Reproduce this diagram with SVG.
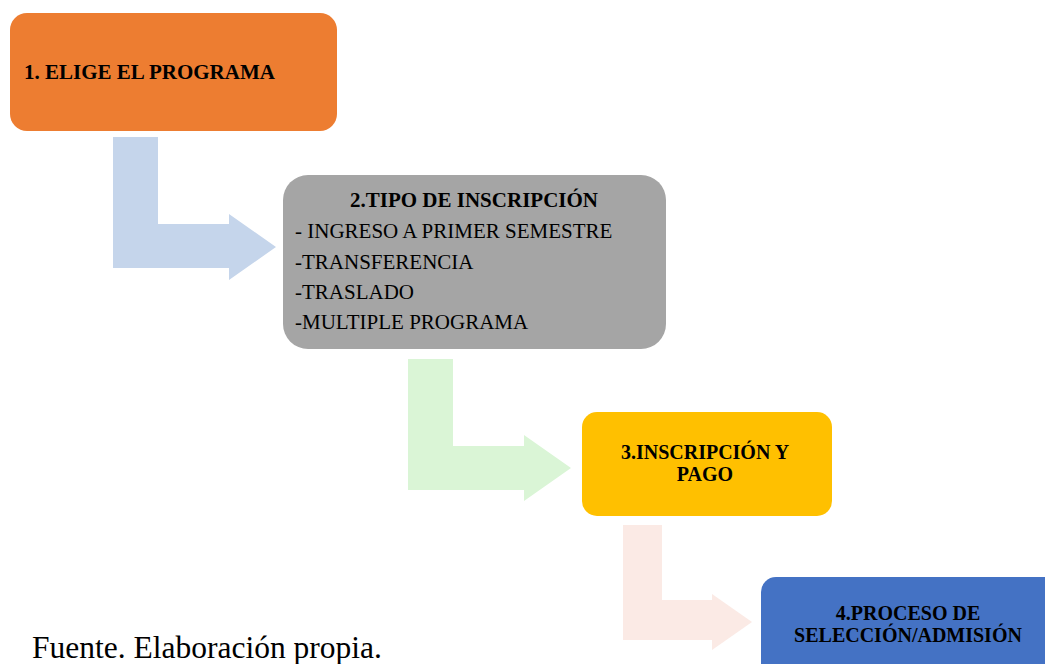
<svg xmlns="http://www.w3.org/2000/svg" width="1045" height="664" viewBox="0 0 1045 664">
<style>
text{font-family:"Liberation Serif","Times New Roman",serif;font-size:21px;fill:#000}
.b{font-weight:bold}
.c{text-anchor:middle}
.s{font-size:20px}
</style>
<rect width="1045" height="664" fill="#fff"/>
<g id="connectors">
<polygon points="113,137 158,137 158,224 229,224 229,214 276,247 229,280 229,268 113,268" fill="#C5D5EB"/>
<polygon points="408,359 453,359 453,446 524,446 524,435 571,468 524,501 524,490 408,490" fill="#DAF5D6"/>
<polygon points="623,525 662,525 662,600 712,600 712,594 752,622 712,650 712,640 623,640" fill="#FBEAE5"/>
</g>
<g id="node1">
<rect x="10" y="13" width="327" height="118" rx="17" fill="#ED7D31"/>
<text x="24" y="79" class="b">1. ELIGE EL PROGRAMA</text>
</g>
<g id="node2">
<rect x="283" y="175" width="383" height="174" rx="25" fill="#A5A5A5"/>
<text x="474" y="207" class="b c">2.TIPO DE INSCRIPCIÓN</text>
<text x="295" y="238">- INGRESO A PRIMER SEMESTRE</text>
<text x="295" y="269">-TRANSFERENCIA</text>
<text x="295" y="299">-TRASLADO</text>
<text x="295" y="329">-MULTIPLE PROGRAMA</text>
</g>
<g id="node3">
<rect x="582" y="412" width="250" height="104" rx="15" fill="#FFC000"/>
<text x="705" y="459" class="b c s">3.INSCRIPCIÓN Y</text>
<text x="705" y="481" class="b c s">PAGO</text>
</g>
<g id="node4">
<rect x="761" y="577" width="300" height="110" rx="15" fill="#4472C4"/>
<text x="908" y="620" class="b c s">4.PROCESO DE</text>
<text x="908" y="642" class="b c s">SELECCIÓN/ADMISIÓN</text>
</g>
<text x="32" y="658" style="font-size:31.5px">Fuente. Elaboración propia.</text>
</svg>
